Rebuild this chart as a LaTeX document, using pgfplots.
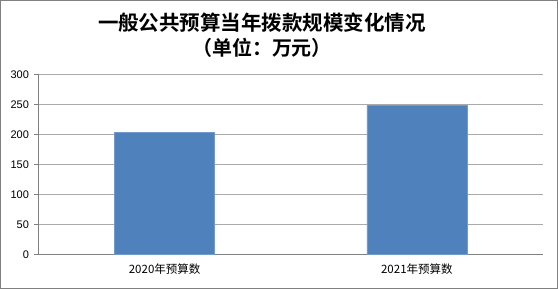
\documentclass[border=0pt]{standalone}
\usepackage{fontspec}
\setmainfont{Liberation Sans}
\newfontfamily\cjk{Noto Sans CJK SC}
\newfontfamily\cjkb{Noto Sans CJK SC Bold}
\usepackage{pgfplots}
\pgfplotsset{compat=1.18}
\definecolor{barblue}{RGB}{79,129,189}
\definecolor{gridgray}{RGB}{170,170,170}
\definecolor{axgray}{RGB}{128,128,128}
\begin{document}
\begin{tikzpicture}
\useasboundingbox (0pt,0pt) rectangle (558pt,289pt);
\draw[axgray, line width=1pt] (0.5pt,0.5pt) rectangle (557.5pt,288.5pt);
\node[font=\cjkb\fontsize{20.5}{20.5}\selectfont] at (262pt,266pt) {一般公共预算当年拨款规模变化情况};
\node[font=\cjkb\fontsize{20}{20}\selectfont] at (262pt,241pt) {（单位：万元）};
\begin{axis}[
  at={(38.5pt,34.7pt)}, anchor=south west,
  scale only axis, width=504.5pt, height=180pt,
  xmin=-0.5, xmax=1.5, ymin=0, ymax=300,
  axis x line*=bottom, axis y line*=left,
  axis line style={axgray, line width=0.8pt},
  ytick={0,50,100,150,200,250,300},
  ymajorgrids, major grid style={gridgray, line width=0.8pt},
  tick align=outside, major tick length=4pt,
  tick style={axgray, line width=0.8pt},
  xtick={0,1}, xticklabels={2020年预算数,2021年预算数},
  x tick style={draw=none},
  extra x ticks={-0.5,0.5,1.5}, extra x tick labels={},
  extra x tick style={tick style={axgray, line width=0.8pt}, grid=none},
  ticklabel style={font=\fontsize{11}{11}\selectfont},
  xticklabel style={font=\cjk\fontsize{11.5}{11.5}\selectfont, yshift=-2pt},
  yticklabel style={xshift=-2pt},
  /pgf/number format/assume math mode=true,
  ybar, bar width=100pt,
]
\addplot[fill=barblue, draw=barblue!80!white] coordinates {(0,203) (1,248)};
\end{axis}
\end{tikzpicture}
\end{document}
